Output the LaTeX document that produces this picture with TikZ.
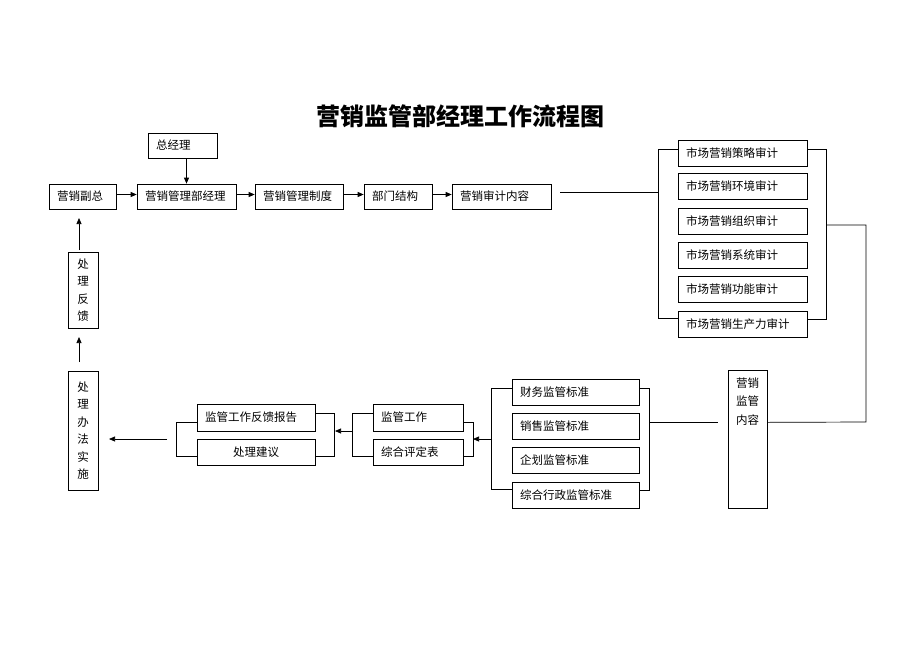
\documentclass[tikz,border=0pt]{standalone}
\usepackage{fontspec}
\newfontfamily\cjk{Noto Sans CJK SC}
\usetikzlibrary{arrows.meta}
\begin{document}
\begin{tikzpicture}[x=1pt,y=-1pt,
  line width=0.7pt,
  box/.style={draw, inner xsep=8pt, inner ysep=0pt, align=left,
    font=\cjk\fontsize{11.5}{14}\selectfont},
  vbox/.style={draw, inner sep=0pt, minimum width=30pt, align=center,
    font=\cjk\fontsize{11.5}{17.5}\selectfont},
  arr/.style={-{Triangle[length=6pt,width=5pt]}},
  ttl/.style={font=\cjk\bfseries\fontsize{24}{28}\selectfont}]
\useasboundingbox (0,0) rectangle (920,651);

\node[ttl] (title) at (460,116) {营销监管部经理工作流程图};

% top row
\node[box, text width=53pt, minimum height=25pt] (gm) at (182.5,145.5) {总经理};
\node[box, text width=51pt, minimum height=25pt] (fm) at (82.5,196.5) {营销副总};
\node[box, text width=83pt, minimum height=25pt] (mgr) at (186.5,196.5) {营销管理部经理};
\node[box, text width=72pt, minimum height=25pt] (sys) at (299,196.5) {营销管理制度};
\node[box, text width=52pt, minimum height=25pt] (dept) at (398,196.5) {部门结构};
\node[box, text width=83pt, minimum height=25pt] (audit) at (501.5,196.5) {营销审计内容};

\draw[arr] ([yshift=2pt]fm.east) -- ([yshift=2pt]mgr.west);
\draw[arr] ([yshift=2pt]mgr.east) -- ([yshift=2pt]sys.west);
\draw[arr] ([yshift=2pt]sys.east) -- ([yshift=2pt]dept.west);
\draw[arr] ([yshift=2pt]dept.east) -- ([yshift=2pt]audit.west);
\draw[arr] (gm.south -| mgr.north) -- (mgr.north);

% audit group
\node[box, text width=113pt, minimum height=26pt] (a1) at (742.5,153) {市场营销策略审计};
\node[box, text width=113pt, minimum height=26pt] (a2) at (742.5,186) {市场营销环境审计};
\node[box, text width=113pt, minimum height=26pt] (a3) at (742.5,221) {市场营销组织审计};
\node[box, text width=113pt, minimum height=26pt] (a4) at (742.5,255) {市场营销系统审计};
\node[box, text width=113pt, minimum height=26pt] (a5) at (742.5,289.5) {市场营销功能审计};
\node[box, text width=113pt, minimum height=26pt] (a6) at (742.5,324) {市场营销生产力审计};

\draw ([yshift=4pt]a1.west) -- ++(-19,0) |- ([yshift=6pt]a6.west);
\draw ([yshift=4pt]a1.east) -- ++(19,0) |- ([yshift=5pt]a6.east);
\coordinate (c1) at (560,192);
\coordinate (lb) at (659,192);
\draw (c1) -- (lb);

% content box
\node[draw, inner sep=0pt, anchor=north, font=\cjk\fontsize{11.5}{18.5}\selectfont] (nr) at (747.5,370)
  {\parbox[t][138pt][t]{39pt}{\centering\rule{0pt}{17pt}营销\\监管\\内容}};
\coordinate (rb) at (826,225);
\coordinate (rc) at (866,422);
\draw (rb) -| (rc) -- ([yshift=17pt]nr.east);

% standards group
\node[box, text width=111pt, minimum height=26pt] (s1) at (575.5,392) {财务监管标准};
\node[box, text width=111pt, minimum height=26pt] (s2) at (575.5,426) {销售监管标准};
\node[box, text width=111pt, minimum height=26pt] (s3) at (575.5,460) {企划监管标准};
\node[box, text width=111pt, minimum height=26pt] (s4) at (575.5,495) {综合行政监管标准};
\draw ([yshift=4pt]s1.west) -- ++(-20,0) |- ([yshift=6pt]s4.west);
\draw ([yshift=4pt]s1.east) -- ++(10,0) |- ([yshift=5pt]s4.east);
\coordinate (c2) at (718,422);
\draw ([xshift=10pt]s2.east |- c2) -- (c2);

% supervision group
\node[box, text width=74pt, minimum height=27pt] (w1) at (418,417.5) {监管工作};
\node[box, text width=74pt, minimum height=26pt] (w2) at (418,452) {综合评定表};
\draw ([yshift=-4.5pt]w1.east) -- ++(10,0) |- ([yshift=-4pt]w2.east);
\draw ([yshift=4.5pt]w1.west) -- ++(-20,0) |- ([yshift=-4pt]w2.west);
\coordinate (sL) at (492,439);
\coordinate (wR) at (473,439);
\draw[arr] (sL) -- (wR);

% report group
\node[box, text width=102pt, minimum height=27pt] (r1) at (256,417.5) {监管工作反馈报告};
\node[box, text width=102pt, minimum height=26pt, align=center] (r2) at (256,452) {处理建议};
\draw ([yshift=4.5pt]r1.east) -- ++(19,0) |- ([yshift=-4pt]r2.east);
\draw ([yshift=-4.5pt]r1.west) -- ++(-20,0) |- ([yshift=-4pt]r2.west);
\coordinate (wL) at (353,431);
\coordinate (rR) at (335,431);
\draw[arr] (wL) -- (rR);

% left column
\node[vbox, minimum height=76pt] (fb) at (83,290) {处\\理\\反\\馈};
\node[vbox, minimum height=119pt] (impl) at (83,430.5) {处\\理\\办\\法\\实\\施};
\coordinate (rL) at (167,439);
\coordinate (iR) at (109,439);
\draw[arr] (rL) -- (iR);
\coordinate (i1) at (79,362);
\coordinate (i2) at (79,337);
\draw[arr] (i1) -- (i2);
\coordinate (f1) at (79,250);
\coordinate (f2) at (79,218);
\draw[arr] (f1) -- (f2);
\end{tikzpicture}
\end{document}
